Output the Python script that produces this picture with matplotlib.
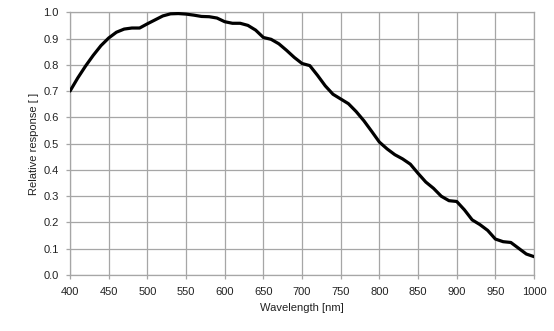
import matplotlib
matplotlib.use('Agg')
import matplotlib.pyplot as plt

plt.rcParams['font.family'] = ['Liberation Sans', 'DejaVu Sans']

# spectral response, every 10 nm
wavelength = [400, 410, 420, 430, 440, 450, 460, 470, 480, 490,
              500, 510, 520, 530, 540, 550, 560, 570, 580, 590,
              600, 610, 620, 630, 640, 650, 660, 670, 680, 690,
              700, 710, 720, 730, 740, 750, 760, 770, 780, 790,
              800, 810, 820, 830, 840, 850, 860, 870, 880, 890,
              900, 910, 920, 930, 940, 950, 960, 970, 980, 990, 1000]
response = [0.700, 0.750, 0.795, 0.836, 0.873, 0.902, 0.924, 0.936, 0.940, 0.940,
            0.956, 0.971, 0.986, 0.994, 0.995, 0.993, 0.989, 0.984, 0.983, 0.978,
            0.964, 0.958, 0.958, 0.950, 0.932, 0.904, 0.897, 0.880, 0.855, 0.828,
            0.805, 0.797, 0.760, 0.720, 0.688, 0.670, 0.652, 0.622, 0.587, 0.547,
            0.506, 0.480, 0.458, 0.442, 0.422, 0.387, 0.354, 0.330, 0.300, 0.283,
            0.280, 0.248, 0.210, 0.192, 0.170, 0.137, 0.127, 0.124, 0.102, 0.080, 0.070]

x_ticks = list(range(400, 1001, 50))
y_ticks = [i / 10 for i in range(11)]

fig = plt.figure(figsize=(5.54, 3.31), dpi=100)
ax = fig.add_axes([0.1264, 0.169, 0.8376, 0.794])

ax.plot(wavelength, response, color='black', lw=2.3, solid_capstyle='round', zorder=3)

ax.set_xlim(400, 1000)
ax.set_ylim(0, 1.0)
ax.set_xticks(x_ticks)
ax.set_yticks(y_ticks)
ax.set_yticklabels([f'{v:.1f}' for v in y_ticks])
ax.grid(True, color='#a6a6a6', lw=0.9)

for s in ax.spines.values():
    s.set_color('#a6a6a6')
    s.set_linewidth(0.9)

ax.tick_params(axis='both', colors='#a6a6a6', labelcolor='#222222',
               labelsize=8, length=3, width=0.9)
ax.tick_params(axis='x', pad=5.5)
ax.tick_params(axis='y', pad=5)

ax.set_xlabel('Wavelength [nm]', fontsize=8, color='#222222', labelpad=4.5)
ax.set_ylabel('Relative response [ ]', fontsize=8, color='#222222', labelpad=3.5)

fig.savefig('out.png', dpi=100, facecolor='white')
